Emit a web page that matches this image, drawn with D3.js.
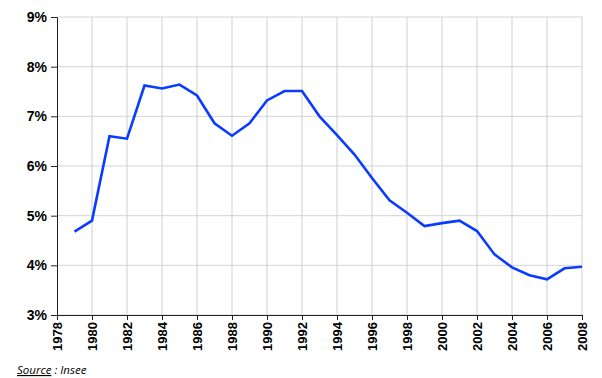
<!DOCTYPE html>
<html>
<head>
<meta charset="utf-8">
<script src="https://cdn.jsdelivr.net/npm/d3@7"></script>
<style>
  body { margin: 0; background: #fff; }
  svg { display: block; }
</style>
</head>
<body>
<svg id="chart" width="602" height="378"></svg>
<script>
// taux de chomage, en %
const years = [1979, 1980, 1981, 1982, 1983, 1984, 1985, 1986, 1987, 1988,
               1989, 1990, 1991, 1992, 1993, 1994, 1995, 1996, 1997, 1998,
               1999, 2000, 2001, 2002, 2003, 2004, 2005, 2006, 2007, 2008];
const rates = [4.68, 4.90, 6.60, 6.55, 7.62, 7.56, 7.64, 7.42, 6.86, 6.61,
               6.86, 7.32, 7.51, 7.51, 7.00, 6.62, 6.23, 5.76, 5.31, 5.06,
               4.79, 4.85, 4.90, 4.69, 4.22, 3.96, 3.80, 3.72, 3.94, 3.97];
const xTicks = d3.range(1978, 2009, 2);
const yTicks = [3, 4, 5, 6, 7, 8, 9];

const margin = {top: 17, right: 20, bottom: 63, left: 57};
const width = 602;
const height = 378;

const svg = d3.select("#chart");

const x = d3.scaleLinear()
    .domain([1978, 2008])
    .range([margin.left, width - margin.right]);

const y = d3.scaleLinear()
    .domain([3, 9])
    .range([height - margin.bottom, margin.top]);

// grille
svg.append("g")
    .selectAll("line")
    .data(yTicks)
    .enter().append("line")
    .attr("x1", x(1978))
    .attr("x2", x(2008))
    .attr("y1", d => y(d))
    .attr("y2", d => y(d))
    .attr("stroke", "#d4d4d4")
    .attr("stroke-width", 1);

svg.append("g")
    .selectAll("line")
    .data(xTicks.slice(1))
    .enter().append("line")
    .attr("x1", d => x(d))
    .attr("x2", d => x(d))
    .attr("y1", y(3))
    .attr("y2", y(9))
    .attr("stroke", "#cfcfcf")
    .attr("stroke-width", 1);

// axes
const yAxis = svg.append("g")
    .attr("transform", `translate(${x(1978)},0)`)
    .call(d3.axisLeft(y).tickValues(yTicks).tickFormat(d => d + "%").tickSize(6).tickPadding(4));

yAxis.select(".domain").attr("stroke", "#222");
yAxis.selectAll(".tick line").attr("stroke", "#222");
yAxis.selectAll("text")
    .attr("font-family", "Liberation Sans, Arial, sans-serif")
    .attr("font-size", "14px")
    .attr("font-weight", "bold")
    .attr("fill", "#000");

const xAxis = svg.append("g")
    .attr("transform", `translate(0,${y(3)})`)
    .call(d3.axisBottom(x).tickValues(xTicks).tickFormat(d3.format("d")).tickSize(5).tickSizeOuter(0));

xAxis.select(".domain").attr("stroke", "#222");
xAxis.selectAll(".tick line").attr("stroke", "#222");
xAxis.selectAll("text")
    .attr("font-family", "Liberation Sans, Arial, sans-serif")
    .attr("font-size", "13px")
    .attr("font-weight", "bold")
    .attr("fill", "#000")
    .attr("text-anchor", "end")
    .attr("dy", "0.35em")
    .attr("transform", "translate(0,6) rotate(-90)")
    .attr("x", -1)
    .attr("y", 0);

// courbe
const line = d3.line()
    .x((d, i) => x(years[i]))
    .y(d => y(d));

svg.append("path")
    .datum(rates)
    .attr("fill", "none")
    .attr("stroke", "#0a3cff")
    .attr("stroke-width", 2.6)
    .attr("stroke-linejoin", "miter")
    .attr("d", line);

// source
const src = svg.append("text")
    .attr("x", 17)
    .attr("y", 374)
    .attr("font-family", "Open Sans, Liberation Sans, sans-serif")
    .attr("font-size", "11.5px")
    .attr("font-style", "italic")
    .attr("fill", "#000");
src.append("tspan").attr("text-decoration", "underline").text("Source");
src.append("tspan").text(" : Insee");
</script>
</body>
</html>
